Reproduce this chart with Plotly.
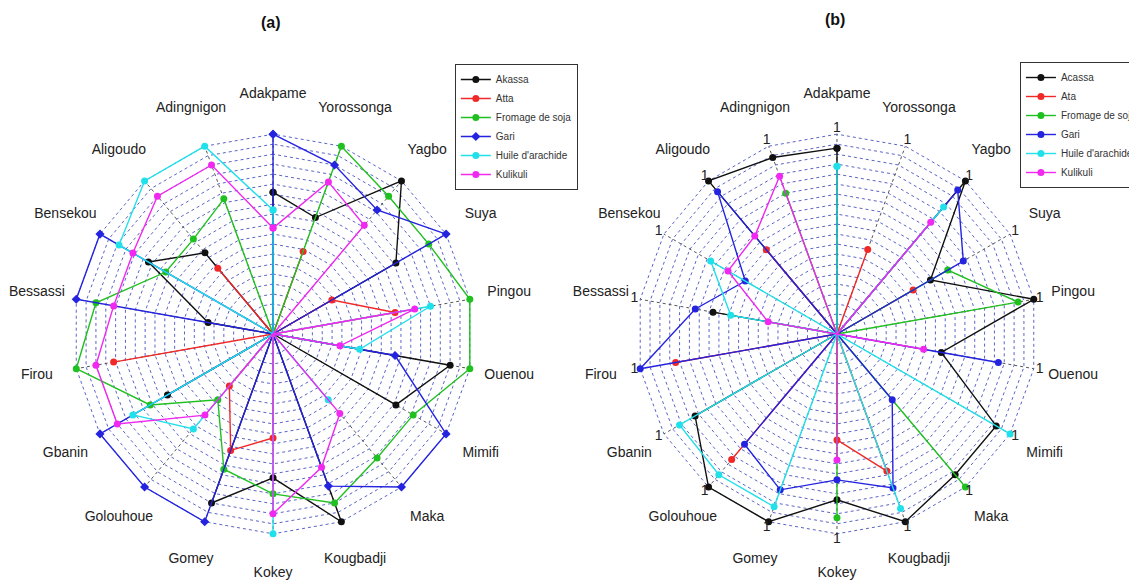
import plotly.graph_objects as go

categories = ["Adakpame", "Adingnigon", "Aligoudo", "Bensekou", "Bessassi", "Firou",
              "Gbanin", "Golouhoue", "Gomey", "Kokey", "Kougbadji", "Maka", "Mimifi",
              "Ouenou", "Pingou", "Suya", "Yagbo", "Yorossonga"]

names_a = ["Akassa", "Atta", "Fromage de soja", "Gari", "Huile d'arachide", "Kulikuli"]
names_b = ["Acassa", "Ata", "Fromage de soja", "Gari", "Huile d'arachide", "Kulikuli"]

# Panel (a)
akassa_a = [0.71, 0, 0.53, 0.72, 0.33, 0, 0.61, 0, 0.90, 0.72, 1.00, 0, 0.71, 0.90, 0, 0.71, 1.00, 0.62]
atta_a = [0, 0, 0.43, 0, 0, 0.81, 0, 0.34, 0.62, 0.52, 0, 0, 0, 0, 0.62, 0.34, 0, 0.44]
fromage_a = [0, 0.72, 0.62, 0.62, 0.90, 1.00, 0.71, 0.43, 0.72, 0.80, 0.90, 0.81, 0.81, 1.00, 1.00, 0.90, 0.90, 1.00]
gari_a = [1.00, 0, 0, 1.00, 1.00, 0, 1.00, 1.00, 1.00, 0, 0.81, 1.00, 1.00, 0.62, 0, 1.00, 0.81, 0.90]
huile_a = [0.62, 1.00, 1.00, 0.89, 0, 0, 0.81, 0.62, 0, 1.00, 0, 0.43, 0, 0.44, 0.80, 0, 0, 0]
kuli_a = [0.53, 0.90, 0.90, 0.81, 0.81, 0.90, 0.90, 0.53, 0, 0.90, 0.71, 0.52, 0, 0.34, 0.72, 0, 0.71, 0.81]

# Panel (b)
akassa_b = [0.93, 0.94, 1.00, 0, 0.63, 0, 0.82, 1.00, 1.00, 0.83, 1.00, 0.92, 0.92, 0.53, 1.00, 0.54, 1.00, 0]
atta_b = [0, 0, 0.55, 0, 0, 0.82, 0, 0.82, 0, 0.53, 0.73, 0, 0, 0, 0, 0.44, 0, 0.45]
fromage_b = [0, 0.75, 0, 0, 0, 0, 0, 0, 0, 0.92, 0, 1.00, 0, 0, 0.92, 0.64, 0, 0]
gari_b = [0, 0, 0.93, 0.53, 0.72, 1.00, 0, 0.72, 0.83, 0.73, 0.82, 0.43, 0, 0.82, 0, 0.73, 0.94, 0]
huile_b = [0.84, 0, 0, 0.73, 0.54, 0, 0.91, 0.92, 0.92, 0, 0.93, 0, 1.00, 0, 0, 0, 0.83, 0]
kuli_b = [0, 0.84, 0.64, 0.63, 0.35, 0, 0, 0, 0, 0.63, 0, 0, 0, 0.44, 0, 0, 0.73, 0]

# grid / axis-label helpers
ring_values = [round(0.05 * i, 2) for i in range(1, 21)]
axis_max = 1.0
label_r = 1.2
axis_max_labels = ["1"] * len(categories)

colors = ["#111111", "#f02828", "#20c020", "#2323e0", "#20e0ea", "#f028f0"]
symbols_a = ["circle", "circle", "circle", "diamond", "circle", "circle"]
symbols_b = ["circle", "circle", "circle", "circle", "circle", "circle"]

series_a = [akassa_a, atta_a, fromage_a, gari_a, huile_a, kuli_a]
series_b = [akassa_b, atta_b, fromage_b, gari_b, huile_b, kuli_b]

fig = go.Figure()

def closed(v):
    return list(v) + [v[0]]

# spokes (dotted radial grid lines) drawn up to the outer ring only
spoke_r, spoke_t = [], []
for c in categories:
    spoke_r += [0, axis_max, None]
    spoke_t += [c, c, None]
for sp in ["polar", "polar2"]:
    fig.add_trace(go.Scatterpolar(
        r=spoke_r, theta=spoke_t, mode="lines", line=dict(color="#555555", width=1, dash="dot"),
        showlegend=False, hoverinfo="skip", subplot=sp, connectgaps=False))

for vals, name, col, sym in zip(series_a, names_a, colors, symbols_a):
    fig.add_trace(go.Scatterpolar(
        r=closed(vals), theta=closed(categories), mode="lines+markers", name=name,
        line=dict(color=col, width=1.4), marker=dict(color=col, size=7, symbol=sym),
        subplot="polar", legend="legend"))

for vals, name, col, sym in zip(series_b, names_b, colors, symbols_b):
    fig.add_trace(go.Scatterpolar(
        r=closed(vals), theta=closed(categories), mode="lines+markers", name=name,
        line=dict(color=col, width=1.4), marker=dict(color=col, size=7, symbol=sym),
        subplot="polar2", legend="legend2"))

fig.add_trace(go.Scatterpolar(
    r=[axis_max * 1.03] * len(categories), theta=categories, mode="text", text=axis_max_labels,
    textfont=dict(size=14, color="#222222", family="Arial"), showlegend=False,
    hoverinfo="skip", subplot="polar2"))

for sp in ["polar", "polar2"]:
    fig.add_trace(go.Scatterpolar(
        r=[label_r] * len(categories), theta=categories, mode="text", text=categories,
        textfont=dict(size=14, color="#222222", family="Arial"), showlegend=False,
        hoverinfo="skip", subplot=sp))

radial_common = dict(range=[0, 1.22], tickmode="array", tickvals=ring_values,
                     showticklabels=False, ticks="", showline=False,
                     gridcolor="#5a64c8", gridwidth=1, griddash="dot")
angular_common = dict(rotation=90, direction="counterclockwise", showline=False,
                      showgrid=False, showticklabels=False, ticks="")

fig.update_layout(
    width=1137, height=587,
    margin=dict(l=0, r=0, t=0, b=0),
    paper_bgcolor="white",
    font=dict(family="Arial"),
    polar=dict(domain=dict(x=[0.0187, 0.4475], y=[0.0293, 0.8600]),
               gridshape="linear", bgcolor="white",
               radialaxis=radial_common, angularaxis=angular_common),
    polar2=dict(domain=dict(x=[0.5147, 0.9435], y=[0.0293, 0.8600]),
                gridshape="linear", bgcolor="white",
                radialaxis=radial_common, angularaxis=angular_common),
    legend=dict(x=0.393, y=0.9046, xanchor="left", yanchor="top", bgcolor="white",
                bordercolor="#333333", borderwidth=1, font=dict(size=10, color="#333333"),
                tracegroupgap=0, itemwidth=30),
    legend2=dict(x=0.890, y=0.908, xanchor="left", yanchor="top", bgcolor="white",
                 bordercolor="#333333", borderwidth=1, font=dict(size=10, color="#333333"),
                 tracegroupgap=0, itemwidth=30),
    annotations=[
        dict(text="<b>(a)</b>", x=0.2313, y=0.976, xref="paper", yref="paper",
             xanchor="center", yanchor="middle",
             showarrow=False, font=dict(size=16, color="#111111")),
        dict(text="<b>(b)</b>", x=0.7274, y=0.9796, xref="paper", yref="paper",
             xanchor="center", yanchor="middle",
             showarrow=False, font=dict(size=16, color="#111111")),
    ],
)

fig.write_html("out.html")
